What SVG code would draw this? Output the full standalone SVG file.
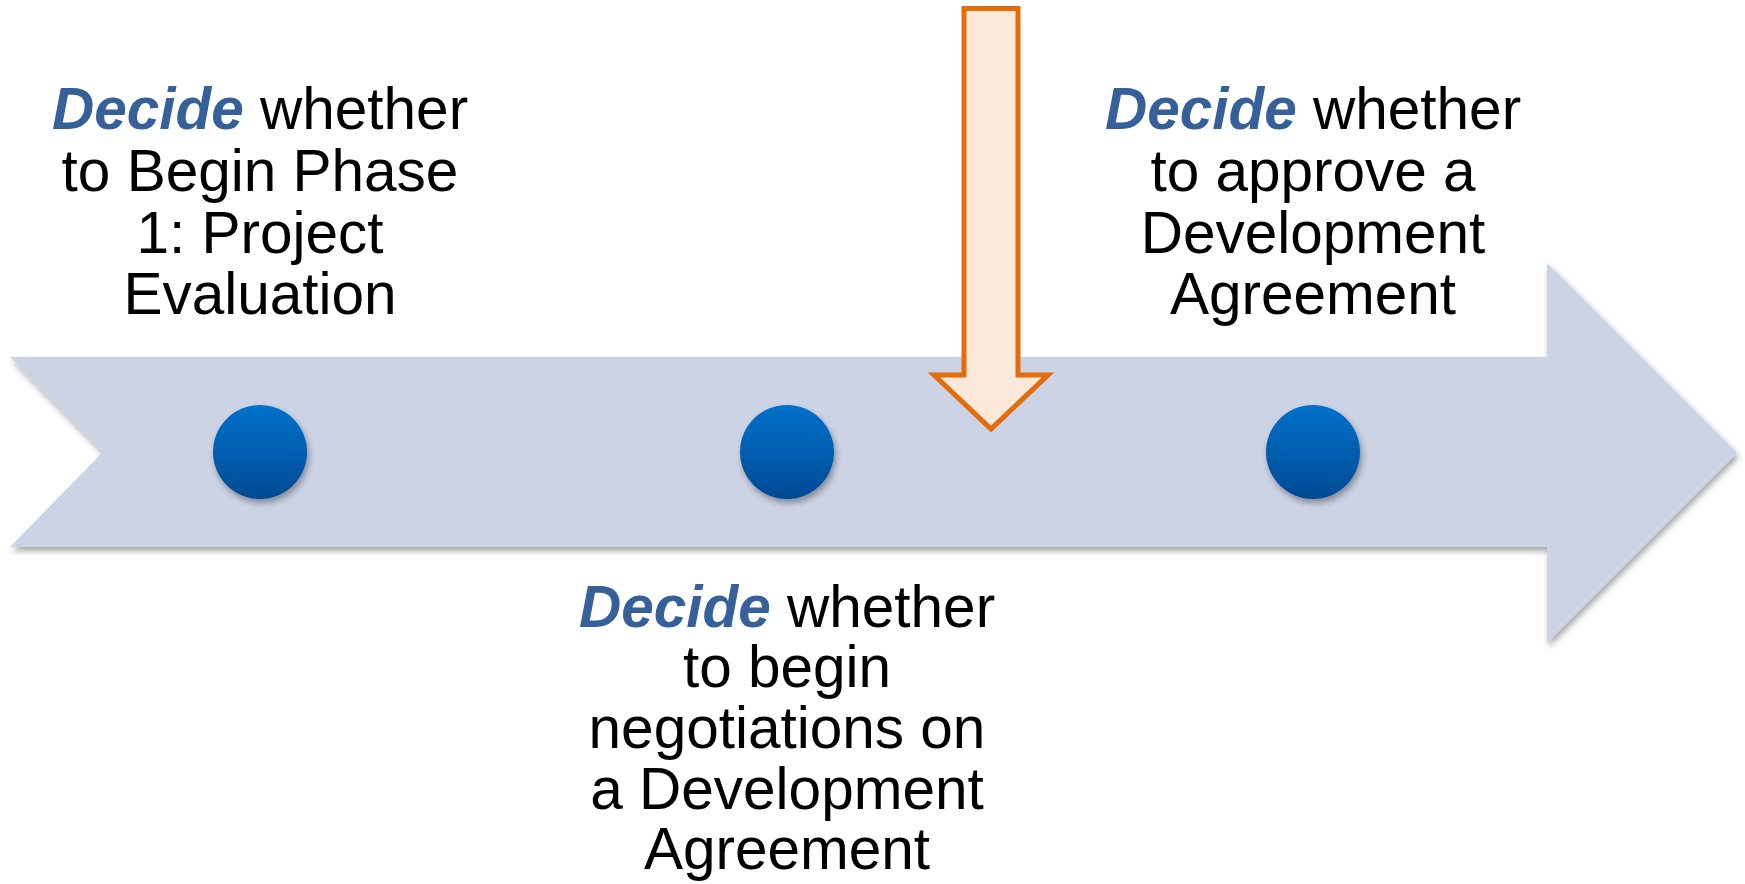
<svg xmlns="http://www.w3.org/2000/svg" width="1745" height="884" viewBox="0 0 1745 884">
<style>
.t{font-family:"Liberation Sans",Arial,sans-serif;font-size:58.5px;fill:#000;text-anchor:middle}
.d{font-weight:bold;font-style:italic;fill:#36609A}
</style>
<defs>
<filter id="sh" x="-10%" y="-10%" width="120%" height="130%">
<feDropShadow dx="2" dy="4" stdDeviation="3" flood-color="#000" flood-opacity="0.35"/>
</filter>
<linearGradient id="dot" x1="0" y1="0" x2="0" y2="1">
<stop offset="0" stop-color="#0071CA"/>
<stop offset="1" stop-color="#004A93"/>
</linearGradient>
</defs>
<g id="timeline">
<path d="M10,357 L1547,357 L1547,263 L1737,453 L1547,643 L1547,547 L10,547 L103,452 Z" fill="#CBD3E5" filter="url(#sh)"/>
</g>
<g id="dot1"><circle cx="260" cy="452" r="47" fill="url(#dot)" filter="url(#sh)"/></g>
<g id="dot2"><circle cx="787" cy="452" r="47" fill="url(#dot)" filter="url(#sh)"/></g>
<g id="dot3"><circle cx="1313" cy="452" r="47" fill="url(#dot)" filter="url(#sh)"/></g>
<g id="connectors">
<path d="M964,8.5 L1018,8.5 L1018,375 L1048,375 L991,429 L934,375 L964,375 Z" fill="#FCE9DA" stroke="#E46C0A" stroke-width="5" stroke-linejoin="miter"/>
</g>
<g id="label1">
<text class="t" x="260" y="129"><tspan class="d">Decide</tspan> whether</text>
<text class="t" x="260" y="191">to Begin Phase</text>
<text class="t" x="260" y="253">1: Project</text>
<text class="t" x="260" y="314">Evaluation</text>
</g>
<g id="label2">
<text class="t" x="787" y="627"><tspan class="d">Decide</tspan> whether</text>
<text class="t" x="787" y="687">to begin</text>
<text class="t" x="787" y="748">negotiations on</text>
<text class="t" x="787" y="809">a Development</text>
<text class="t" x="787" y="869">Agreement</text>
</g>
<g id="label3">
<text class="t" x="1313" y="129"><tspan class="d">Decide</tspan> whether</text>
<text class="t" x="1313" y="191">to approve a</text>
<text class="t" x="1313" y="253">Development</text>
<text class="t" x="1313" y="314">Agreement</text>
</g>
</svg>
